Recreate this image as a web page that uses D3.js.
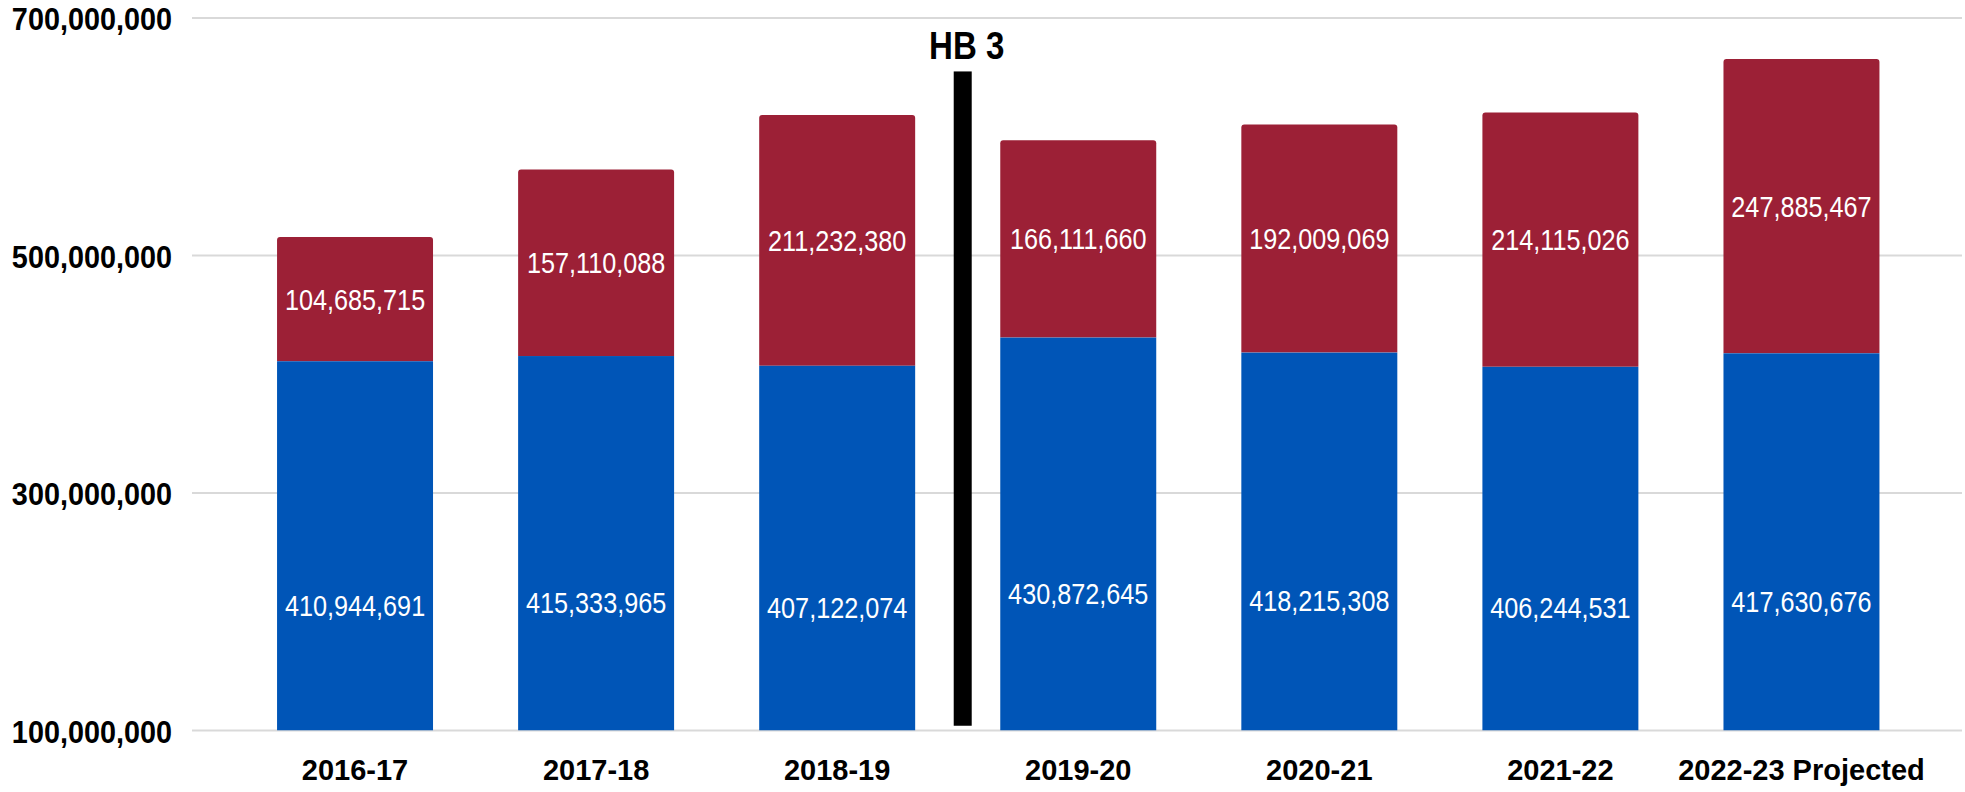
<!DOCTYPE html>
<html>
<head>
<meta charset="utf-8">
<script src="https://cdn.jsdelivr.net/npm/d3@7"></script>
<style>
  html, body { margin: 0; padding: 0; background: #ffffff; }
  svg { display: block; }
  text { font-family: "Liberation Sans", Arial, sans-serif; }
</style>
</head>
<body>
<svg id="chart" width="1965" height="792"></svg>
<script>
// School years shown along the bottom
const categories = ["2016-17", "2017-18", "2018-19", "2019-20", "2020-21", "2021-22", "2022-23 Projected"];
// Lower (blue) segment of each stacked bar
const baseValues = [410944691, 415333965, 407122074, 430872645, 418215308, 406244531, 417630676];
// Upper (red) segment of each stacked bar
const topValues = [104685715, 157110088, 211232380, 166111660, 192009069, 214115026, 247885467];
// Y axis ticks
const yTicks = [100000000, 300000000, 500000000, 700000000];
// Policy marker drawn between two school years
const markerLabel = "HB 3";
const markerAfter = "2018-19";
const markerRange = [104000000, 655000000];

const colors = { base: "#0055b7", top: "#9c2036", grid: "#d9d9d9" };

const svg = d3.select("#chart");
const width = 1965, height = 792;

const y = d3.scaleLinear().domain([100000000, 700000000]).range([730.5, 18]);
const x = d3.scaleBand().domain(categories).range([234.5, 1922]).paddingInner(0.353).paddingOuter(0.1765);

const fmt = d3.format(",");

// Grid lines
svg.append("g")
  .selectAll("line")
  .data(yTicks)
  .join("line")
  .attr("x1", 192).attr("x2", 1962)
  .attr("y1", d => y(d)).attr("y2", d => y(d))
  .attr("stroke", colors.grid)
  .attr("stroke-width", 2);

// Y axis labels
const yAxis = d3.axisLeft(y).tickValues(yTicks).tickFormat(fmt).tickSize(0).tickPadding(0);
const yg = svg.append("g").attr("transform", "translate(172,0)").call(yAxis);
yg.select(".domain").remove();
yg.selectAll("text")
  .attr("fill", "#000")
  .attr("font-size", 32)
  .attr("font-weight", "bold")
  .attr("dy", "0.36em")
  .attr("transform", "scale(0.9,1)");
yg.selectAll(".tick").each(function () {
  // compress horizontally around the right edge
});

const rows = categories.map((c, i) => ({ cat: c, base: baseValues[i], top: topValues[i] }));
const bw = x.bandwidth();
const yFloor = y.domain()[0];

// Clip marks to the plotted value range
svg.append("defs").append("clipPath").attr("id", "plot")
  .append("rect").attr("x", 0).attr("y", 0).attr("width", width).attr("height", y(yFloor));

const bars = svg.append("g").attr("clip-path", "url(#plot)");

// Upper segments (rounded top corners)
bars.selectAll("path.top")
  .data(rows)
  .join("path")
  .attr("class", "top")
  .attr("fill", colors.top)
  .attr("d", d => {
    const x0 = x(d.cat), x1 = x0 + bw;
    const y0 = y(d.base + d.top), y1 = y(d.base);
    const r = 3;
    return `M${x0},${y1}V${y0 + r}Q${x0},${y0} ${x0 + r},${y0}H${x1 - r}Q${x1},${y0} ${x1},${y0 + r}V${y1}Z`;
  });

// Lower segments
bars.selectAll("rect.base")
  .data(rows)
  .join("rect")
  .attr("class", "base")
  .attr("fill", colors.base)
  .attr("x", d => x(d.cat))
  .attr("width", bw)
  .attr("y", d => y(d.base))
  .attr("height", d => y(yFloor) - y(d.base));

// Value labels
function valueLabel(sel, cls, valueFn, posFn) {
  sel.selectAll("text." + cls)
    .data(rows)
    .join("text")
    .attr("class", cls)
    .attr("transform", d => `translate(${x(d.cat) + bw / 2},${y(posFn(d))}) scale(0.87,1)`)
    .attr("text-anchor", "middle")
    .attr("dy", "0.36em")
    .attr("fill", "#fff")
    .attr("font-size", 29)
    .text(d => fmt(valueFn(d)));
}
const labels = svg.append("g");
valueLabel(labels, "vtop", d => d.top, d => d.base + d.top / 2);
valueLabel(labels, "vbase", d => d.base, d => d.base / 2);

// X axis labels
svg.append("g")
  .selectAll("text")
  .data(categories)
  .join("text")
  .attr("x", d => x(d) + bw / 2)
  .attr("y", 780)
  .attr("text-anchor", "middle")
  .attr("font-size", 29)
  .attr("font-weight", "bold")
  .attr("fill", "#000")
  .text(d => d);

// Policy marker
const iA = categories.indexOf(markerAfter);
const gapMid = (x(categories[iA]) + bw + x(categories[iA + 1])) / 2 + 5;
svg.append("rect")
  .attr("x", gapMid - 9)
  .attr("width", 18)
  .attr("y", y(markerRange[1]))
  .attr("height", y(markerRange[0]) - y(markerRange[1]))
  .attr("fill", "#000");
svg.append("text")
  .attr("transform", `translate(${gapMid + 4},${y(markerRange[1]) - 12}) scale(0.87,1)`)
  .attr("text-anchor", "middle")
  .attr("font-size", 38)
  .attr("font-weight", "bold")
  .attr("fill", "#000")
  .text(markerLabel);
</script>
</body>
</html>
